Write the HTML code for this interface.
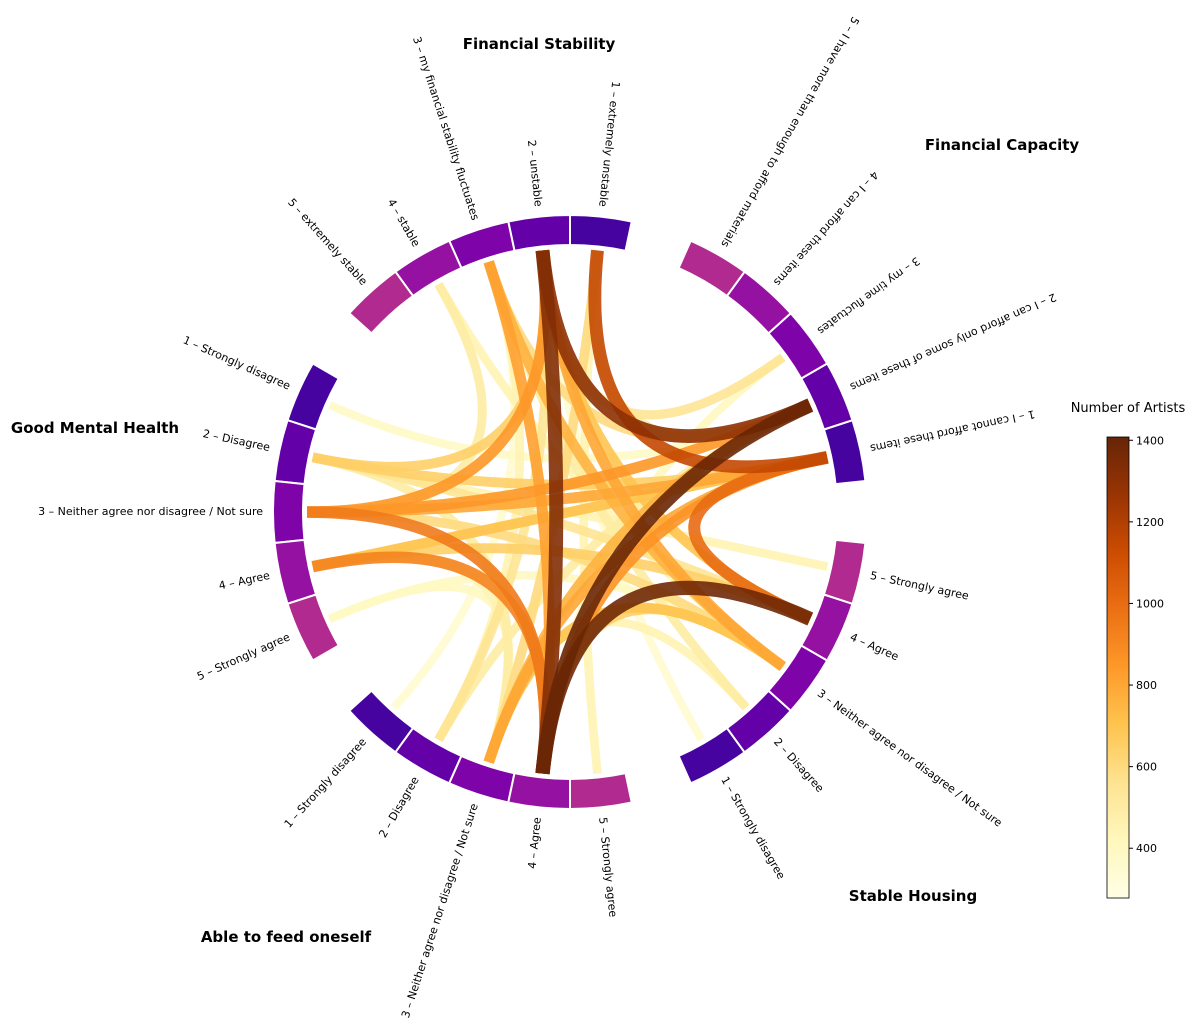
<!DOCTYPE html>
<html><head><meta charset="utf-8"><style>
html,body{margin:0;padding:0;background:#fff;}
svg{display:block;font-family:"DejaVu Sans","Liberation Sans",sans-serif;}
</style></head><body>
<svg id="chart" width="1199" height="1036" viewBox="0 0 1199 1036">
<defs>
<linearGradient id="cbar" x1="0" y1="1" x2="0" y2="0">
<stop offset="0" stop-color="#ffffe5"/><stop offset="0.125" stop-color="#fff7bc"/><stop offset="0.25" stop-color="#fee391"/><stop offset="0.375" stop-color="#fec44f"/><stop offset="0.5" stop-color="#fe9929"/><stop offset="0.625" stop-color="#ec7014"/><stop offset="0.75" stop-color="#cc4c02"/><stop offset="0.875" stop-color="#993404"/><stop offset="1" stop-color="#662506"/>
</linearGradient>
</defs>
<g id="chords"></g>
<g id="segments"></g>
<g id="labels"></g>
<g id="titles" font-weight="bold" font-size="15" text-anchor="middle">
<text x="539" y="49">Financial Stability</text>
<text x="1002" y="150">Financial Capacity</text>
<text x="95" y="433">Good Mental Health</text>
<text x="913" y="901">Stable Housing</text>
<text x="286" y="942">Able to feed oneself</text>
</g>
<g id="colorbar">
<text x="1128" y="412" font-size="13" text-anchor="middle">Number of Artists</text>
<rect x="1107" y="437" width="22" height="461" fill="url(#cbar)" stroke="#000" stroke-width="0.8"/>
<g id="cticks"></g>
</g>
</svg>
<script>
const groups = ["Financial Stability","Financial Capacity","Stable Housing","Able to feed oneself","Good Mental Health"];
const groupStart = [84, 12, -60, -132, 156];
const segLabels = [
 ["1 – extremely unstable","2 – unstable","3 – my financial stability fluctuates","4 – stable","5 – extremely stable"],
 ["1 – I cannot afford these items","2 – I can afford only some of these items","3 – my time fluctuates","4 – I can afford these items","5 – I have more than enough to afford materials"],
 ["1 – Strongly disagree","2 – Disagree","3 – Neither agree nor disagree / Not sure","4 – Agree","5 – Strongly agree"],
 ["1 – Strongly disagree","2 – Disagree","3 – Neither agree nor disagree / Not sure","4 – Agree","5 – Strongly agree"],
 ["1 – Strongly disagree","2 – Disagree","3 – Neither agree nor disagree / Not sure","4 – Agree","5 – Strongly agree"]
];
// link arrays: source group, source segment, target group, target segment, value
const srcGroup = [0,1,2,0,0,1,4,4,4,4,4,0,0,0,3,3,3,0,4,4,4,4,4,4,3,3,3,0,0,0,3,3,3,4,4,4,0,0,0,3,2,3,4,1,1,2,2,3];
const srcSeg   = [2,2,4,2,1,1,3,4,3,3,3,3,2,3,3,4,3,2,2,2,4,4,3,2,3,3,4,3,2,1,2,2,5,1,2,4,3,4,4,3,1,2,5,3,1,5,3,1];
const dstGroup = [3,3,3,1,1,2,3,3,0,1,1,3,2,2,1,1,1,2,0,1,1,2,2,2,0,2,2,1,1,1,0,1,0,1,3,3,2,2,4,2,0,0,3,3,4,4,4,0];
const dstSeg   = [4,4,4,2,1,4,4,4,2,2,1,4,3,3,1,1,2,4,2,1,1,4,3,4,1,3,3,2,3,2,2,2,1,2,3,3,2,3,3,2,2,3,3,4,4,2,5,3];
const values   = [1330,1400,1380,1300,1150,1000,950,920,850,850,800,820,800,760,800,860,760,700,650,650,700,650,600,550,600,700,650,600,550,500,550,500,450,380,500,450,500,450,500,450,350,450,400,400,600,450,400,350];
const cbTicks = [400,600,800,1000,1200,1400];

const CX=570, CY=512, RI=267, RO=297, RC=263;
const VMIN=278, VMAX=1408;
const NS="http://www.w3.org/2000/svg";
const segColors=["#47039f","#6400a7","#7e03a8","#9511a1","#b12a90"];
const stops=[[255,255,229],[255,247,188],[254,227,145],[254,196,79],[254,153,41],[236,112,20],[204,76,2],[153,52,4],[102,37,6]];
function cmap(v){let t=Math.max(0,Math.min(1,(v-VMIN)/(VMAX-VMIN)))*8;let i=Math.min(7,Math.floor(t)),f=t-i;
 const c=stops[i].map((a,k)=>Math.round(a+(stops[i+1][k]-a)*f));return `rgb(${c[0]},${c[1]},${c[2]})`;}
function pt(a,r){const t=a*Math.PI/180;return [CX+r*Math.cos(t),CY-r*Math.sin(t)];}
function segAngle(g,s){return groupStart[g]+(s-1)*12;}
function yScale(v){return 898-(v-VMIN)/(VMAX-VMIN)*461;}

const segG=document.getElementById('segments');
for(let g=0;g<5;g++)for(let s=1;s<=5;s++){
 const a0=segAngle(g,s)-6,a1=segAngle(g,s)+6;
 const p1=pt(a0,RO),p2=pt(a1,RO),p3=pt(a1,RI),p4=pt(a0,RI);
 const p=document.createElementNS(NS,'path');
 p.setAttribute('d',`M${p1} A${RO},${RO} 0 0 0 ${p2} L${p3} A${RI},${RI} 0 0 1 ${p4}Z`);
 p.setAttribute('fill',segColors[s-1]);p.setAttribute('stroke','#fff');p.setAttribute('stroke-width','2');
 
 
 segG.appendChild(p);
}
const labG=document.getElementById('labels');
for(let g=0;g<5;g++)for(let s=1;s<=5;s++){
 const a=segAngle(g,s);
 const outward=(g===2)||(g===3&&s===5);
 const p=pt(a,307);
 const t=document.createElementNS(NS,'text');
 const rot=outward?-a:-(a+180);
 t.setAttribute('transform',`translate(${p[0]},${p[1]}) rotate(${rot})`);
 t.setAttribute('text-anchor',outward?'start':'end');
 t.setAttribute('dominant-baseline','middle');
 t.setAttribute('font-size','11');
 t.textContent=segLabels[g][s-1];
 
 
 labG.appendChild(t);
}
const chG=document.getElementById('chords');
const idx=values.map((v,i)=>i).sort((a,b)=>values[a]-values[b]);
idx.forEach(i=>{
 const p0=pt(segAngle(srcGroup[i],srcSeg[i]),RC),p1=pt(segAngle(dstGroup[i],dstSeg[i]),RC);
 const path=document.createElementNS(NS,'path');
 path.setAttribute('d',`M${p0} Q${CX},${CY} ${p1}`);
 path.setAttribute('fill','none');
 path.setAttribute('stroke',cmap(values[i]));
 path.setAttribute('stroke-width',(6+values[i]*0.006).toFixed(1));
 path.setAttribute('stroke-opacity','0.9');
 
 
 chG.appendChild(path);
});
const ct=document.getElementById('cticks');
cbTicks.forEach(v=>{
 const y=yScale(v);
 const l=document.createElementNS(NS,'line');
 l.setAttribute('x1',1129);l.setAttribute('x2',1133);l.setAttribute('y1',y);l.setAttribute('y2',y);l.setAttribute('stroke','#000');
 
 
 ct.appendChild(l);
 const t=document.createElementNS(NS,'text');
 t.setAttribute('x',1136);t.setAttribute('y',y+4);t.setAttribute('font-size','11');
 t.textContent=v;
 
 
 ct.appendChild(t);
});
</script>
</body></html>
